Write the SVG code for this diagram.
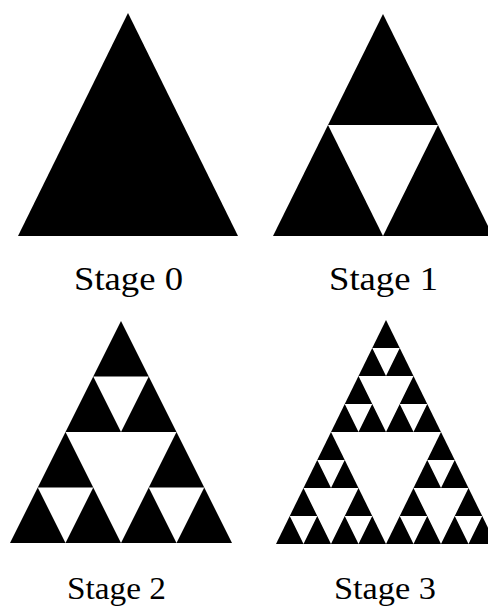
<svg xmlns="http://www.w3.org/2000/svg" width="488" height="608" viewBox="0 0 488 608">
  <style>
    .blk { fill: #000; }
    .wht { fill: #fff; }
    .lbl { font-family: "Liberation Serif", "Times New Roman", serif; font-size: 33px; fill: #000; }
    .lbl2 { font-family: "Liberation Serif", "Times New Roman", serif; font-size: 31px; fill: #000; }
  </style>
  <defs>
    <!-- unit grid: apex (8,0), base (0,8)-(16,8) -->
    <polygon id="outer" points="8,0 0,8 16,8"/>
    <polygon id="hole1" points="4,4 12,4 8,8"/>
    <path id="hole2" d="M6,2 L10,2 L8,4 Z M2,6 L6,6 L4,8 Z M10,6 L14,6 L12,8 Z"/>
    <path id="hole3" d="M7,1 L9,1 L8,2 Z M5,3 L7,3 L6,4 Z M9,3 L11,3 L10,4 Z M3,5 L5,5 L4,6 Z M1,7 L3,7 L2,8 Z M5,7 L7,7 L6,8 Z M11,5 L13,5 L12,6 Z M9,7 L11,7 L10,8 Z M13,7 L15,7 L14,8 Z"/>
  </defs>
  <rect width="488" height="608" fill="#fff"/>

  <g id="stage0">
    <g transform="translate(18,13) scale(13.75,27.875)">
      <use href="#outer" class="blk"/>
    </g>
    <text class="lbl" x="74" y="290" textLength="109" lengthAdjust="spacingAndGlyphs">Stage 0</text>
  </g>

  <g id="stage1">
    <g transform="translate(273,14) scale(13.75,27.75)">
      <use href="#outer" class="blk"/>
      <use href="#hole1" class="wht"/>
    </g>
    <text class="lbl" x="329" y="290" textLength="109" lengthAdjust="spacingAndGlyphs">Stage 1</text>
  </g>

  <g id="stage2">
    <g transform="translate(10,321) scale(13.875,27.75)">
      <use href="#outer" class="blk"/>
      <use href="#hole1" class="wht"/>
      <use href="#hole2" class="wht"/>
    </g>
    <text class="lbl2" x="67" y="599" textLength="99" lengthAdjust="spacingAndGlyphs">Stage 2</text>
  </g>

  <g id="stage3">
    <g transform="translate(276,320) scale(13.75,28)">
      <use href="#outer" class="blk"/>
      <use href="#hole1" class="wht"/>
      <use href="#hole2" class="wht"/>
      <use href="#hole3" class="wht"/>
    </g>
    <text class="lbl2" x="334" y="599" textLength="102" lengthAdjust="spacingAndGlyphs">Stage 3</text>
  </g>

  <g id="connectors"/>
</svg>
